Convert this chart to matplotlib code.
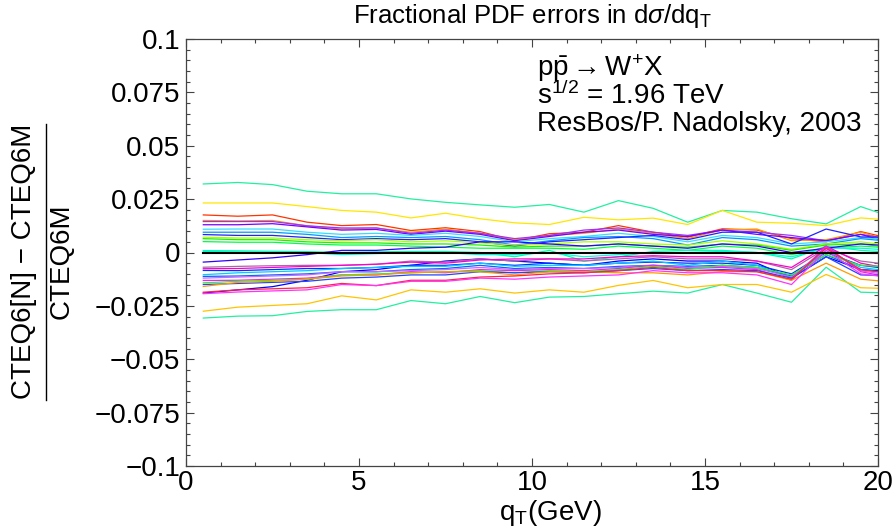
import matplotlib
matplotlib.use("Agg")
import matplotlib.pyplot as plt
from matplotlib.ticker import MultipleLocator, FixedLocator, FixedFormatter
import numpy as np

plt.rcParams['font.family'] = ['Liberation Sans', 'DejaVu Sans']
plt.rcParams['mathtext.fontset'] = 'custom'
plt.rcParams['mathtext.rm'] = 'Liberation Sans'
plt.rcParams['mathtext.it'] = 'Liberation Sans:italic'
plt.rcParams['mathtext.bf'] = 'Liberation Sans:bold'

qT = [0.5, 1.5, 2.5, 3.5, 4.5, 5.5, 6.5, 7.5, 8.5, 9.5, 10.5,
      11.5, 12.5, 13.5, 14.5, 15.5, 16.5, 17.5, 18.5, 19.5, 20.5]

series_colors = [
    '#22f0a0', '#ffe600', '#22f0a0', '#ffc400',
    '#ff3300', '#ff9900', '#9933ff', '#7700ff', '#33ddff', '#0099ff',
    '#2222ff', '#aaff00', '#22ee00', '#00ff44', '#00ffaa', '#00ffdd',
    '#3300ff', '#0000ff', '#aa66aa', '#ff00cc', '#0033ff', '#00ccff',
    '#0066ff', '#cc66ff', '#ee22ee', '#33ee33', '#2244ff', '#ff9900',
    '#ff2244', '#ff33ff',
]

s01 = [0.0321, 0.0328, 0.0318, 0.0287, 0.0275, 0.0275, 0.0251, 0.0235, 0.0223, 0.0212, 0.0225,
       0.0189, 0.0243, 0.0207, 0.0142, 0.0197, 0.0189, 0.0158, 0.0134, 0.0215, 0.0160]
s02 = [0.0232, 0.0232, 0.0232, 0.0215, 0.0197, 0.0189, 0.0162, 0.0184, 0.0158, 0.0139, 0.0131,
       0.0165, 0.0153, 0.0161, 0.0131, 0.0197, 0.0142, 0.0137, 0.0126, 0.0162, 0.0150]
s03 = [-0.0307, -0.0298, -0.0296, -0.0276, -0.0268, -0.0268, -0.0225, -0.0240, -0.0206, -0.0235, -0.0209,
       -0.0206, -0.0193, -0.0181, -0.0190, -0.0150, -0.0190, -0.0233, -0.0069, -0.0186, -0.0190]
s04 = [-0.0275, -0.0256, -0.0248, -0.0240, -0.0203, -0.0222, -0.0175, -0.0186, -0.0170, -0.0190, -0.0175,
       -0.0186, -0.0154, -0.0131, -0.0165, -0.0150, -0.0150, -0.0186, -0.0103, -0.0165, -0.0170]
s05 = [0.0176, 0.0170, 0.0176, 0.0142, 0.0126, 0.0131, 0.0103, 0.0116, 0.0098, 0.0056, 0.0088,
       0.0095, 0.0126, 0.0095, 0.0072, 0.0111, 0.0105, 0.0065, 0.0050, 0.0098, 0.0060]
s06 = [0.0150, 0.0148, 0.0150, 0.0125, 0.0110, 0.0115, 0.0095, 0.0110, 0.0090, 0.0060, 0.0080,
       0.0090, 0.0110, 0.0090, 0.0065, 0.0106, 0.0110, 0.0055, 0.0060, 0.0095, 0.0050]
s07 = [0.0145, 0.0145, 0.0145, 0.0125, 0.0115, 0.0115, 0.0090, 0.0105, 0.0090, 0.0065, 0.0080,
       0.0105, 0.0115, 0.0095, 0.0080, 0.0105, 0.0095, 0.0080, 0.0055, 0.0085, 0.0060]
s08 = [0.0130, 0.0130, 0.0135, 0.0120, 0.0105, 0.0108, 0.0085, 0.0100, 0.0085, 0.0055, 0.0075,
       0.0095, 0.0105, 0.0085, 0.0075, 0.0105, 0.0085, 0.0070, 0.0055, 0.0085, 0.0040]
s09 = [0.0109, 0.0110, 0.0110, 0.0095, 0.0085, 0.0090, 0.0080, 0.0090, 0.0075, 0.0050, 0.0065,
       0.0075, 0.0090, 0.0075, 0.0050, 0.0080, 0.0070, 0.0040, 0.0050, 0.0070, 0.0060]
s10 = [0.0095, 0.0095, 0.0095, 0.0085, 0.0070, 0.0075, 0.0070, 0.0075, 0.0060, 0.0035, 0.0055,
       0.0070, 0.0075, 0.0065, 0.0035, 0.0070, 0.0060, 0.0030, 0.0040, 0.0065, 0.0050]
s11 = [0.0084, 0.0080, 0.0080, 0.0070, 0.0060, 0.0065, 0.0060, 0.0065, 0.0050, 0.0030, 0.0050,
       0.0060, 0.0070, 0.0080, 0.0060, 0.0095, 0.0095, 0.0040, 0.0110, 0.0073, 0.0070]
s12 = [0.0072, 0.0068, 0.0068, 0.0060, 0.0055, 0.0060, 0.0050, 0.0055, 0.0045, 0.0035, 0.0040,
       0.0050, 0.0050, 0.0040, 0.0035, 0.0055, 0.0040, 0.0015, 0.0040, 0.0050, 0.0030]
s13 = [0.0065, 0.0060, 0.0060, 0.0050, 0.0045, 0.0045, 0.0040, 0.0040, 0.0035, 0.0025, 0.0030,
       0.0030, 0.0040, 0.0030, 0.0025, 0.0040, 0.0035, 0.0010, 0.0035, 0.0040, 0.0020]
s14 = [0.0051, 0.0048, 0.0048, 0.0040, 0.0035, 0.0035, 0.0030, 0.0025, 0.0020, 0.0020, 0.0020,
       0.0015, 0.0030, 0.0020, 0.0010, 0.0030, 0.0020, -0.0010, 0.0020, 0.0030, 0.0020]
s15 = [0.0009, 0.0008, 0.0006, 0.0004, 0.0000, 0.0003, 0.0005, 0.0005, 0.0000, -0.0020, 0.0010,
       -0.0040, -0.0020, 0.0005, 0.0010, 0.0010, 0.0000, -0.0030, 0.0030, 0.0010, 0.0000]
s16 = [0.0005, 0.0003, 0.0002, 0.0000, -0.0010, -0.0005, 0.0000, 0.0000, -0.0010, -0.0010, 0.0000,
       -0.0020, -0.0010, 0.0000, 0.0000, 0.0005, 0.0000, -0.0020, 0.0020, 0.0020, 0.0010]
s17 = [-0.0045, -0.0035, -0.0025, -0.0010, 0.0010, 0.0010, 0.0020, 0.0025, 0.0050, 0.0050, 0.0040,
       0.0030, 0.0040, 0.0030, 0.0020, 0.0040, 0.0030, 0.0000, 0.0020, 0.0040, 0.0030]
s18 = [-0.0190, -0.0175, -0.0160, -0.0130, -0.0090, -0.0080, -0.0060, -0.0040, -0.0030, -0.0040, -0.0050,
       -0.0060, -0.0040, -0.0030, -0.0040, -0.0040, -0.0050, -0.0120, -0.0020, -0.0080, -0.0090]
s19 = [-0.0069, -0.0065, -0.0062, -0.0060, -0.0060, -0.0055, -0.0040, -0.0045, -0.0030, -0.0040, -0.0030,
       -0.0040, -0.0030, -0.0020, -0.0030, -0.0030, -0.0040, -0.0080, 0.0020, -0.0040, -0.0060]
s20 = [-0.0076, -0.0075, -0.0070, -0.0065, -0.0060, -0.0055, -0.0045, -0.0050, -0.0035, -0.0030, -0.0030,
       -0.0030, -0.0020, -0.0015, -0.0020, -0.0020, -0.0040, -0.0070, 0.0030, -0.0050, -0.0080]
s21 = [-0.0084, -0.0085, -0.0080, -0.0075, -0.0075, -0.0070, -0.0060, -0.0060, -0.0050, -0.0060, -0.0050,
       -0.0060, -0.0050, -0.0045, -0.0050, -0.0050, -0.0060, -0.0100, 0.0000, -0.0060, -0.0080]
s22 = [-0.0104, -0.0095, -0.0090, -0.0085, -0.0075, -0.0070, -0.0065, -0.0065, -0.0050, -0.0065, -0.0060,
       -0.0060, -0.0050, -0.0040, -0.0060, -0.0040, -0.0060, -0.0120, 0.0010, -0.0070, -0.0090]
s23 = [-0.0112, -0.0110, -0.0105, -0.0100, -0.0090, -0.0090, -0.0080, -0.0075, -0.0060, -0.0075, -0.0070,
       -0.0075, -0.0065, -0.0060, -0.0065, -0.0060, -0.0070, -0.0110, -0.0010, -0.0080, -0.0100]
s24 = [-0.0120, -0.0115, -0.0110, -0.0105, -0.0090, -0.0090, -0.0085, -0.0080, -0.0070, -0.0080, -0.0075,
       -0.0075, -0.0070, -0.0060, -0.0070, -0.0065, -0.0075, -0.0115, 0.0020, -0.0085, -0.0110]
s25 = [-0.0131, -0.0130, -0.0125, -0.0120, -0.0105, -0.0105, -0.0090, -0.0095, -0.0080, -0.0085, -0.0080,
       -0.0085, -0.0075, -0.0060, -0.0075, -0.0070, -0.0080, -0.0130, 0.0030, -0.0090, -0.0120]
s26 = [-0.0142, -0.0135, -0.0130, -0.0125, -0.0105, -0.0100, -0.0095, -0.0090, -0.0085, -0.0095, -0.0085,
       -0.0090, -0.0080, -0.0065, -0.0080, -0.0060, -0.0070, -0.0105, -0.0010, -0.0060, -0.0070]
s27 = [-0.0150, -0.0145, -0.0140, -0.0135, -0.0120, -0.0115, -0.0105, -0.0105, -0.0090, -0.0095, -0.0090,
       -0.0095, -0.0085, -0.0075, -0.0085, -0.0080, -0.0085, -0.0120, -0.0020, -0.0105, -0.0110]
s28 = [-0.0159, -0.0140, -0.0135, -0.0125, -0.0110, -0.0105, -0.0095, -0.0090, -0.0090, -0.0105, -0.0090,
       -0.0090, -0.0095, -0.0095, -0.0105, -0.0090, -0.0090, -0.0130, -0.0050, -0.0125, -0.0140]
s29 = [-0.0186, -0.0175, -0.0170, -0.0165, -0.0145, -0.0155, -0.0130, -0.0130, -0.0115, -0.0110, -0.0100,
       -0.0095, -0.0085, -0.0070, -0.0085, -0.0085, -0.0090, -0.0125, 0.0020, -0.0080, -0.0100]
s30 = [-0.0193, -0.0185, -0.0180, -0.0175, -0.0150, -0.0155, -0.0135, -0.0135, -0.0120, -0.0125, -0.0115,
       -0.0110, -0.0105, -0.0085, -0.0095, -0.0095, -0.0105, -0.0150, 0.0010, -0.0100, -0.0120]

all_series = [s01, s02, s03, s04, s05, s06, s07, s08, s09, s10, s11, s12, s13, s14, s15,
              s16, s17, s18, s19, s20, s21, s22, s23, s24, s25, s26, s27, s28, s29, s30]

central = [0.0] * len(qT)

yticks = [-0.1, -0.075, -0.05, -0.025, 0.0, 0.025, 0.05, 0.075, 0.1]
ytick_labels = ['\u22120.1', '\u22120.075', '\u22120.05', '\u22120.025', '0',
                '0.025', '0.05', '0.075', '0.1']
xticks = [0, 5, 10, 15, 20]
xtick_labels = ['0', '5', '10', '15', '20']

fig = plt.figure(figsize=(8.93, 5.27), dpi=100)
ax = fig.add_axes([186 / 893, 1 - 466 / 527, (878 - 186) / 893, (466 - 39) / 527])

for vals, col in zip(all_series, series_colors):
    ax.plot(qT, vals, color=col, lw=0.9, solid_joinstyle='round')
ax.plot(qT, central, color='black', lw=1.5)

ax.set_xlim(0, 20)
ax.set_ylim(-0.1, 0.1)
ax.xaxis.set_major_locator(FixedLocator(xticks))
ax.xaxis.set_major_formatter(FixedFormatter(xtick_labels))
ax.xaxis.set_minor_locator(MultipleLocator(1))
ax.yaxis.set_major_locator(FixedLocator(yticks))
ax.yaxis.set_major_formatter(FixedFormatter(ytick_labels))
ax.yaxis.set_minor_locator(MultipleLocator(0.005))
ax.tick_params(which='both', direction='in', top=True, right=True, labelsize=20,
               color='#444444', width=0.8)
ax.tick_params(which='major', length=6, pad=4)
ax.tick_params(axis='x', which='major', pad=3)
ax.tick_params(which='minor', length=3)
for sp in ax.spines.values():
    sp.set_color('#444444')
    sp.set_linewidth(0.9)

fig.text(532 / 893, 1 - 23 / 527, r'Fractional PDF errors in d$\sigma$/dq$_\mathregular{T}$',
         ha='center', va='baseline', fontsize=18.5)
fig.text(550 / 893, 1 - 520 / 527, r'q$_\mathregular{T}$(GeV)', ha='center', va='baseline', fontsize=20)

# y label as a fraction
fig.text(24 / 893, 1 - 261 / 527, 'CTEQ6[N] \u2212 CTEQ6M', rotation=90,
         ha='center', va='center', fontsize=20)
fig.text(62 / 893, 1 - 261 / 527, 'CTEQ6M', rotation=90, ha='center', va='center', fontsize=20)
fig.add_artist(plt.Line2D([46 / 893, 46 / 893], [1 - 400 / 527, 1 - 124 / 527],
                          color='black', lw=1.0, transform=fig.transFigure))

fig.text(537 / 893, 1 - 68 / 527, r'p$\mathregular{\bar{p}}$$\rightarrow$W$^{+}$X',
         ha='left', va='center', fontsize=20)
fig.text(537 / 893, 1 - 96 / 527, r's$^\mathregular{1/2}$ = 1.96 TeV',
         ha='left', va='center', fontsize=20)
fig.text(537 / 893, 1 - 124 / 527, 'ResBos/P. Nadolsky, 2003',
         ha='left', va='center', fontsize=20)

fig.savefig('out.png', dpi=100)
